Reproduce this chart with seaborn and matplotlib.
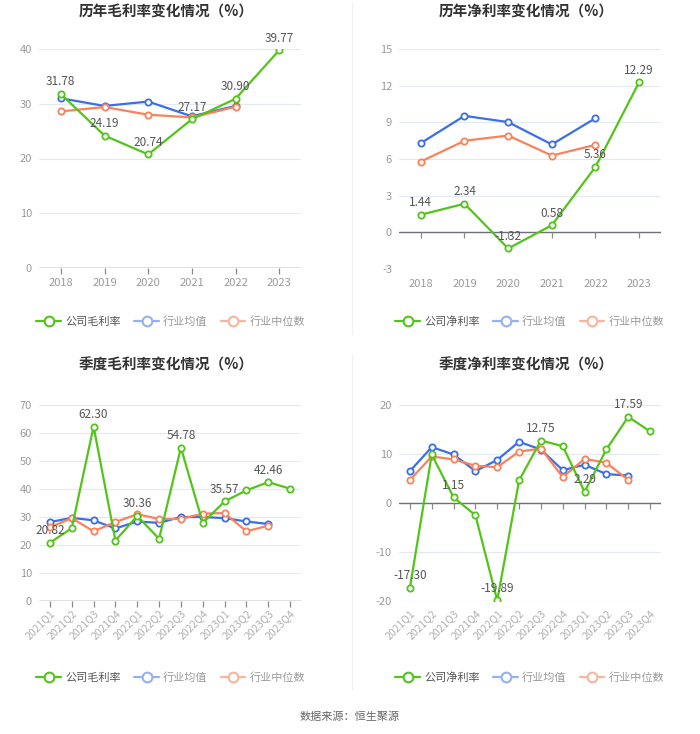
import numpy as np
import pandas as pd
import seaborn as sns
import matplotlib
matplotlib.use('Agg')
import matplotlib.pyplot as plt
from matplotlib.lines import Line2D

# ---- data ----
years = ['2018', '2019', '2020', '2021', '2022', '2023']
quarters = ['2021Q1', '2021Q2', '2021Q3', '2021Q4', '2022Q1', '2022Q2',
            '2022Q3', '2022Q4', '2023Q1', '2023Q2', '2023Q3', '2023Q4']

gross_year_company = [31.78, 24.19, 20.74, 27.17, 30.90, 39.77]
gross_year_avg = [31.0, 29.6, 30.4, 27.7, 29.6, np.nan]
gross_year_median = [28.6, 29.4, 28.0, 27.5, 29.45, np.nan]

net_year_company = [1.44, 2.34, -1.32, 0.58, 5.36, 12.29]
net_year_avg = [7.3, 9.53, 9.02, 7.19, 9.34, np.nan]
net_year_median = [5.79, 7.49, 7.92, 6.28, 7.16, np.nan]

gross_q_company = [20.82, 26.0, 62.30, 21.6, 30.36, 22.2, 54.78, 27.9, 35.57, 39.5, 42.46, 40.1]
gross_q_avg = [28.2, 29.7, 28.8, 25.9, 28.4, 27.9, 30.0, 30.0, 29.6, 28.4, 27.5, np.nan]
gross_q_median = [26.3, 29.6, 24.9, 28.2, 31.0, 29.3, 29.3, 31.2, 31.4, 24.9, 26.9, np.nan]

net_q_company = [-17.30, 9.9, 1.15, -2.5, -19.89, 4.6, 12.75, 11.6, 2.29, 10.95, 17.59, 14.6]
net_q_avg = [6.5, 11.4, 9.9, 6.5, 8.8, 12.5, 10.9, 6.7, 7.8, 5.9, 5.6, np.nan]
net_q_median = [4.7, 9.5, 8.9, 7.6, 7.3, 10.5, 11.1, 5.3, 9.0, 8.2, 4.7, np.nan]

GREEN = '#52c41a'
BLUE = '#3a6fe8'
ORANGE = '#f9825a'

sns.set_style('white')
plt.rcParams['font.family'] = ['Noto Sans CJK SC', 'DejaVu Sans']
plt.rcParams['axes.unicode_minus'] = False

W, H = 700, 734
fig = plt.figure(figsize=(W / 100, H / 100), dpi=100)


def px_axes(x0, x1, ytop, ybot):
    return fig.add_axes([x0 / W, 1 - ybot / H, (x1 - x0) / W, (ybot - ytop) / H])


def panel(ax, cats, company, avg, median, ylim, yticks, title, title_xy,
          company_name, label_every, rotate, legend_xy):
    x = np.arange(len(cats))
    # zero axis line with small tick marks under each category
    ax.axhline(0, color='#6e7079', linewidth=1, zorder=2)
    ax.plot(x, np.zeros(len(x)), linestyle='none', marker=3, markersize=4,
            markeredgewidth=0.9, color='#8a8a8a', zorder=2, clip_on=False)
    for vals, col in [(avg, BLUE), (median, ORANGE), (company, GREEN)]:
        sns.lineplot(x=x, y=vals, ax=ax, color=col, linewidth=1.6,
                     marker='o', markersize=4.5, markerfacecolor='white',
                     markeredgecolor=col, markeredgewidth=1.3, zorder=3)
    # value labels on the company series
    for i, v in enumerate(company):
        if i % label_every == 0:
            ax.annotate(f'{v:.2f}', (x[i], v), xytext=(0, 4), textcoords='offset points',
                        ha='center', va='bottom', fontsize=8.5, color='#555555', zorder=5)
    ax.set_xlim(-0.5, len(cats) - 0.5)
    ax.set_ylim(*ylim)
    ax.set_yticks(yticks)
    ax.set_yticklabels([str(t) for t in yticks])
    ax.grid(axis='y', color='#e3e8f3', linewidth=0.8)
    ax.grid(axis='x', visible=False)
    for s in ax.spines.values():
        s.set_visible(False)
    ax.tick_params(axis='y', length=0, pad=5, labelsize=8, labelcolor='#9a9a9a')
    ax.set_xticks(x)
    if rotate:
        ax.set_xticklabels(cats, rotation=45, ha='right', rotation_mode='anchor')
        ax.tick_params(axis='x', length=0, pad=5, labelsize=7.5, labelcolor='#b0b0b0')
    else:
        ax.set_xticklabels(cats)
        ax.tick_params(axis='x', length=0, pad=7, labelsize=8, labelcolor='#9a9a9a')
    fig.text(title_xy[0] / W, 1 - title_xy[1] / H, title, ha='center', va='center',
             fontsize=10.5, fontweight='bold', color='#333333')
    # legend
    handles = [
        Line2D([], [], color=GREEN, marker='o', markersize=7, markerfacecolor='white',
               markeredgewidth=1.5, linewidth=1.6),
        Line2D([], [], color='#93b1f4', marker='o', markersize=7, markerfacecolor='white',
               markeredgewidth=1.5, linewidth=1.6),
        Line2D([], [], color='#fbb49c', marker='o', markersize=7, markerfacecolor='white',
               markeredgewidth=1.5, linewidth=1.6),
    ]
    leg = fig.legend(handles, [company_name, '行业均值', '行业中位数'], loc='center',
                     bbox_to_anchor=(legend_xy[0] / W, 1 - legend_xy[1] / H),
                     ncol=3, frameon=False, fontsize=8, handlelength=2.2,
                     handletextpad=0.4, columnspacing=1.2)
    for t, c in zip(leg.get_texts(), ['#555555', '#9a9a9a', '#9a9a9a']):
        t.set_color(c)


ax1 = px_axes(39, 301, 49, 268)
panel(ax1, years, gross_year_company, gross_year_avg, gross_year_median,
      (0, 40), [0, 10, 20, 30, 40], '历年毛利率变化情况（%）', (166, 12), '公司毛利率',
      1, False, (171, 322))

ax2 = px_axes(399, 661, 49, 269)
panel(ax2, years, net_year_company, net_year_avg, net_year_median,
      (-3, 15), [-3, 0, 3, 6, 9, 12, 15], '历年净利率变化情况（%）', (526, 12), '公司净利率',
      1, False, (530, 322))

ax3 = px_axes(39, 301, 405, 601)
panel(ax3, quarters, gross_q_company, gross_q_avg, gross_q_median,
      (0, 70), [0, 10, 20, 30, 40, 50, 60, 70], '季度毛利率变化情况（%）', (166, 365), '公司毛利率',
      2, True, (171, 678))

ax4 = px_axes(399, 661, 405, 601)
panel(ax4, quarters, net_q_company, net_q_avg, net_q_median,
      (-20, 20), [-20, -10, 0, 10, 20], '季度净利率变化情况（%）', (526, 365), '公司净利率',
      2, True, (530, 678))

# faint divider between the columns
fig.add_artist(Line2D([352 / W, 352 / W], [1 - 2 / H, 1 - 334 / H], color='#f0f0f0', linewidth=1))
fig.add_artist(Line2D([352 / W, 352 / W], [1 - 354 / H, 1 - 690 / H], color='#f0f0f0', linewidth=1))

fig.text(0.5, 1 - 717 / H, '数据来源：恒生聚源', ha='center', va='center',
         fontsize=8, color='#666666')

fig.savefig('out.png', dpi=100, facecolor='white')
